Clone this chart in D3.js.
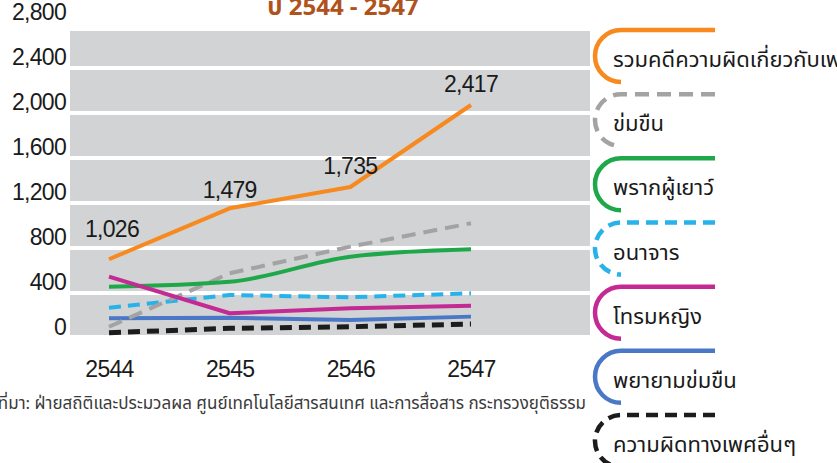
<!DOCTYPE html>
<html>
<head>
<meta charset="utf-8">
<script src="https://cdn.jsdelivr.net/npm/d3@7"></script>
<style>
  html, body { margin: 0; padding: 0; background: #ffffff; overflow: hidden; }
  svg { display: block; }
</style>
</head>
<body>
<svg id="chart" width="837" height="463"></svg>
<script>
// ---------------- DATA ----------------
const years = ["2544", "2545", "2546", "2547"];
const titleText = "ปี 2544 - 2547";
const sourceText = "ที่มา: ฝ่ายสถิติและประมวลผล ศูนย์เทคโนโลยีสารสนเทศ และการสื่อสาร กระทรวงยุติธรรม";

const seriesNames = [
  "รวมคดีความผิดเกี่ยวกับเพศ",
  "ข่มขืน",
  "พรากผู้เยาว์",
  "อนาจาร",
  "โทรมหญิง",
  "พยายามข่มขืน",
  "ความผิดทางเพศอื่นๆ"
];
// values as drawn in the picture
const totalValues    = [700, 1153, 1342, 2071];
const totalLabels    = ["1,026", "1,479", "1,735", "2,417"];
const rapeValues     = [100, 575, 812, 1020];
const minorValues    = [456, 500, 723, 788];
const indecentValues = [269, 382, 362, 397];
const gangRapeValues = [545, 220, 264, 287];
const attemptValues  = [175, 180, 160, 190];
const otherValues    = [47, 86, 100, 124];

const yTicks = [0, 400, 800, 1200, 1600, 2000, 2400, 2800];
const yTickLabels = ["0", "400", "800", "1,200", "1,600", "2,000", "2,400", "2,800"];

// ---------------- STYLES ----------------
const seriesStyles = [
  { color: "#f7891f", dash: null },
  { color: "#a3a3a3", dash: "14,8" },
  { color: "#1fa84a", dash: null },
  { color: "#27b3ea", dash: "12,7" },
  { color: "#c42a93", dash: null },
  { color: "#4a78c6", dash: null },
  { color: "#1c1c1c", dash: "12,7" }
];
const seriesValues = [totalValues, rapeValues, minorValues, indecentValues, gangRapeValues, attemptValues, otherValues];

const numFont = "'Liberation Sans', Arial, sans-serif";
const thaiFont = "'Noto Sans Thai', 'Noto Sans Thai Looped', 'Tlwg Typist', 'Loma', 'Garuda', 'Norasi', 'Sawasdee', 'Noto Sans', sans-serif";
const numSize = 23, numSpacing = "-0.7px";

const svg = d3.select("#chart");

const x = d3.scalePoint().domain(years).range([109, 471]);
const y = d3.scaleLinear().domain([0, 2800]).range([338, 23]);

const plotLeft = 70, plotRight = 590;

// background bands
const bandEdges = [];
for (let i = 0; i < yTicks.length - 1; i++) {
  const lo = yTicks[i], hi = yTicks[i + 1];
  const bottom = i === 0 ? y(lo) - 3 : y(lo) - 2;
  const top = i === yTicks.length - 2 ? y(hi) + 8 : y(hi) + 2;
  bandEdges.push({ top, bottom });
}
svg.append("g").selectAll("rect").data(bandEdges).join("rect")
  .attr("x", plotLeft).attr("width", plotRight - plotLeft)
  .attr("y", d => d.top).attr("height", d => d.bottom - d.top)
  .attr("fill", "#d1d3d4");

// y axis labels
const yAxis = d3.axisLeft(y).tickValues(yTicks).tickFormat((d, i) => yTickLabels[i]).tickSize(0).tickPadding(0);
const yg = svg.append("g").attr("transform", "translate(66,0)").call(yAxis);
yg.select(".domain").remove();
yg.selectAll("text")
  .attr("font-family", numFont).attr("font-size", numSize).attr("fill", "#1a1a1a")
  .style("letter-spacing", numSpacing)
  .attr("dy", null).attr("y", -3.5).attr("dominant-baseline", "auto");

// x axis labels
const xAxis = d3.axisBottom(x).tickSize(0).tickPadding(0);
const xg = svg.append("g").attr("transform", "translate(0,377)").call(xAxis);
xg.select(".domain").remove();
xg.selectAll("text")
  .attr("font-family", numFont).attr("font-size", numSize).attr("fill", "#1a1a1a")
  .style("letter-spacing", numSpacing)
  .attr("y", 0).attr("dy", null);

// lines
const drawOrder = [6, 5, 3, 1, 2, 4, 0];
drawOrder.forEach(si => {
  const st = seriesStyles[si];
  const line = d3.line()
    .x((d, i) => x(years[i]))
    .y(d => y(d))
    .curve(si === 2 ? d3.curveMonotoneX : d3.curveLinear);
  svg.append("path")
    .attr("d", line(seriesValues[si]))
    .attr("fill", "none")
    .attr("stroke", st.color)
    .attr("stroke-width", si === 6 ? 5 : 4)
    .attr("stroke-linejoin", "round")
    .attr("stroke-dasharray", st.dash);
});

// total labels
const labelDy = [-22, -10, -13, -13];
svg.append("g").selectAll("text").data(totalLabels).join("text")
  .attr("x", (d, i) => x(years[i]) + (i === 0 ? 3 : 0))
  .attr("y", (d, i) => y(totalValues[i]) + labelDy[i])
  .attr("text-anchor", "middle")
  .attr("font-family", numFont).attr("font-size", numSize).attr("fill", "#1a1a1a")
  .style("letter-spacing", numSpacing)
  .text(d => d);

// title
svg.append("text")
  .attr("x", 343).attr("y", 15)
  .attr("text-anchor", "middle")
  .attr("font-family", thaiFont).attr("font-weight", "bold").attr("font-size", 24)
  .attr("fill", "#b0521c")
  .text(titleText);

// source
svg.append("text")
  .attr("x", 586).attr("y", 409)
  .attr("text-anchor", "end")
  .attr("font-family", thaiFont).attr("font-size", 17)
  .attr("fill", "#3a3a3a")
  .text(sourceText);

// legend
const legY = d3.scalePoint().domain(seriesNames).range([30, 415]);
const legend = svg.append("g");
seriesNames.forEach((name, i) => {
  const st = seriesStyles[i];
  const t = legY(name);
  const p = d3.path();
  p.moveTo(715, t);
  p.lineTo(621, t);
  p.arc(621, t + 26, 26, -Math.PI / 2, Math.PI / 2, true);
  legend.append("path")
    .attr("d", p.toString())
    .attr("fill", "none")
    .attr("stroke", st.color)
    .attr("stroke-width", 4.5)
    .attr("stroke-dasharray", st.dash);
  legend.append("text")
    .attr("x", 613).attr("y", t + 37)
    .attr("font-family", thaiFont).attr("font-size", 22)
    .attr("fill", "#1a1a1a")
    .text(name);
});
</script>
</body>
</html>
